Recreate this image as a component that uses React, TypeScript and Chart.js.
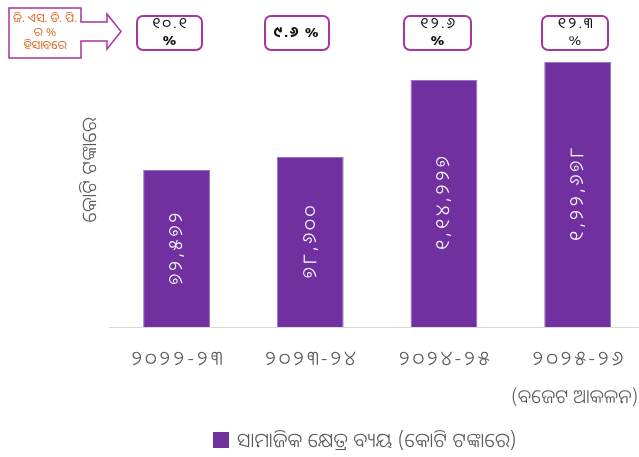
import React, { useEffect, useRef } from "react";
import { Chart, registerables } from "chart.js";

Chart.register(...registerables);

// ---- data ----
const categories: string[][] = [
  ["୨୦୨୨-୨୩"],
  ["୨୦୨୩-୨୪"],
  ["୨୦୨୪-୨୫"],
  ["୨୦୨୫-୨୬", "(ବଜେଟ ଆକଳନ)"],
];
const spending: number[] = [72572, 78600, 114227, 122678];
const gsdpShare: string[] = ["୧୦.୧", "୯.୬", "୧୨.୬", "୧୨.୩"];
const seriesLabel = "ସାମାଜିକ କ୍ଷେତ୍ର ବ୍ୟୟ (କୋଟି ଟଙ୍କାରେ)";
const yTitle = "କୋଟି ଟଙ୍କାରେ";
const calloutLines: string[] = ["ଜି. ଏସ. ଡି. ପି.", "ର %", "ହିସାବରେ"];

// ---- helpers ----
const ODIA = "୦୧୨୩୪୫୬୭୮୯";
function toOdia(s: string): string {
  return s.replace(/[0-9]/g, (d) => ODIA[Number(d)]);
}
function indianGroup(n: number): string {
  const s = String(Math.round(n));
  if (s.length <= 3) return s;
  const last3 = s.slice(-3);
  let rest = s.slice(0, -3);
  const parts: string[] = [];
  while (rest.length > 2) {
    parts.unshift(rest.slice(-2));
    rest = rest.slice(0, -2);
  }
  if (rest) parts.unshift(rest);
  return parts.join(",") + "," + last3;
}

const FONT = "'Noto Sans Oriya', 'Noto Sans', sans-serif";
const BAR_COLOR = "#7030A0";
const BOX_COLOR = "#A9359F";
const TEXT_GRAY = "#595959";

// layout (pixels)
const BOX_LEFT = [137, 265, 404, 542];
const BOX_WIDTH = [65, 64, 67, 66];
const BOX_TOP = 16;
const BOX_H = 34;

function setSpacing(ctx: any, v: string) {
  if ("letterSpacing" in ctx) ctx.letterSpacing = v;
}

const annotPlugin = {
  id: "annot",
  afterDatasetsDraw(chart: any) {
    const ctx: CanvasRenderingContext2D = chart.ctx;
    const meta = chart.getDatasetMeta(0);
    ctx.save();
    ctx.fillStyle = "#ffffff";
    ctx.font = `300 19px ${FONT}`;
    setSpacing(ctx, "3px");
    ctx.textAlign = "center";
    ctx.textBaseline = "middle";
    meta.data.forEach((el: any, i: number) => {
      const p = el.getProps(["x", "y", "base"], true);
      ctx.save();
      ctx.translate(p.x, (p.y + p.base) / 2);
      ctx.rotate(-Math.PI / 2);
      ctx.fillText(toOdia(indianGroup(spending[i])), 1.5, 0);
      ctx.restore();
    });
    ctx.restore();
  },
  afterDraw(chart: any) {
    const ctx: CanvasRenderingContext2D = chart.ctx;
    const xs = chart.scales.x;
    ctx.save();
    ctx.textBaseline = "middle";

    // x category labels
    ctx.fillStyle = TEXT_GRAY;
    ctx.textAlign = "center";
    categories.forEach((lines, i) => {
      const x = xs.getPixelForValue(i);
      ctx.font = `300 20px ${FONT}`;
      setSpacing(ctx, "2.8px");
      ctx.fillText(lines[0], x + 1.4, 359);
      if (lines[1]) {
        setSpacing(ctx, "0px");
        ctx.font = `300 19px ${FONT}`;
        ctx.fillText(lines[1], x - 3, 398);
      }
    });
    setSpacing(ctx, "0px");

    // y title
    ctx.save();
    ctx.translate(90, 170);
    ctx.rotate(-Math.PI / 2);
    ctx.font = `300 20px ${FONT}`;
    ctx.fillText(yTitle, 0, 0);
    ctx.restore();

    // legend
    const ds = chart.data.datasets[0];
    ctx.fillStyle = ds.backgroundColor;
    ctx.fillRect(213, 432, 16, 16);
    ctx.fillStyle = TEXT_GRAY;
    ctx.textAlign = "left";
    ctx.font = `350 20px ${FONT}`;
    ctx.fillText(ds.label, 237, 441);

    // GSDP boxes
    gsdpShare.forEach((v, i) => {
      const x = BOX_LEFT[i];
      const w = BOX_WIDTH[i];
      ctx.beginPath();
      (ctx as any).roundRect(x, BOX_TOP, w, BOX_H, 6);
      ctx.fillStyle = "#ffffff";
      ctx.fill();
      ctx.lineWidth = 2;
      ctx.strokeStyle = BOX_COLOR;
      ctx.stroke();
      ctx.fillStyle = "#111111";
      ctx.textAlign = "center";
      const cx = x + w / 2;
      if (i === 1) {
        ctx.font = `bold 15px ${FONT}`;
        setSpacing(ctx, "1.5px");
        ctx.fillText(v + " %", cx, BOX_TOP + BOX_H / 2);
        setSpacing(ctx, "0px");
      } else {
        ctx.font = `15px ${FONT}`;
        setSpacing(ctx, "2px");
        ctx.fillText(v, cx + 1, BOX_TOP + 8);
        setSpacing(ctx, "0px");
        ctx.font = i === 3 ? `15px ${FONT}` : `bold 15px ${FONT}`;
        ctx.fillText("%", cx, BOX_TOP + 25);
      }
    });

    // callout with arrow
    ctx.beginPath();
    ctx.moveTo(9, 8);
    ctx.lineTo(81, 8);
    ctx.lineTo(81, 22);
    ctx.lineTo(107, 22);
    ctx.lineTo(107, 14);
    ctx.lineTo(121, 31.5);
    ctx.lineTo(107, 49);
    ctx.lineTo(107, 41);
    ctx.lineTo(81, 41);
    ctx.lineTo(81, 58);
    ctx.lineTo(9, 58);
    ctx.closePath();
    ctx.fillStyle = "#ffffff";
    ctx.fill();
    ctx.lineWidth = 1.5;
    ctx.strokeStyle = BOX_COLOR;
    ctx.stroke();
    ctx.fillStyle = "#E0681E";
    ctx.font = `12px ${FONT}`;
    ctx.textAlign = "center";
    calloutLines.forEach((t, k) => ctx.fillText(t, 45, 19 + k * 13.5));
    ctx.restore();
  },
};

export default function App() {
  const ref = useRef<HTMLCanvasElement | null>(null);
  useEffect(() => {
    document.body.style.margin = "0";
    document.body.style.overflow = "hidden";
    const chart = new Chart(ref.current!, {
      type: "bar",
      data: {
        labels: categories,
        datasets: [
          {
            label: seriesLabel,
            data: spending,
            backgroundColor: BAR_COLOR,
            borderColor: "#9673BD",
            borderWidth: 1,
            categoryPercentage: 1,
            barPercentage: 0.5,
          },
        ],
      },
      options: {
        animation: false,
        responsive: false,
        devicePixelRatio: 1,
        layout: { padding: { top: 24.3, right: 5.5, left: 109.7, bottom: 130 } },
        scales: {
          x: {
            grid: { display: false, drawTicks: false },
            border: { color: "#D9D9D9", width: 1 },
            ticks: { display: false },
          },
          y: {
            display: false,
            min: 0,
            max: 140000,
          },
        },
        plugins: {
          legend: { display: false },
          tooltip: { enabled: false },
        },
      },
      plugins: [annotPlugin],
    });
    return () => chart.destroy();
  }, []);
  return (
    <div style={{ width: 650, height: 457 }}>
      <canvas ref={ref} width={650} height={457} style={{ display: "block" }} />
    </div>
  );
}
